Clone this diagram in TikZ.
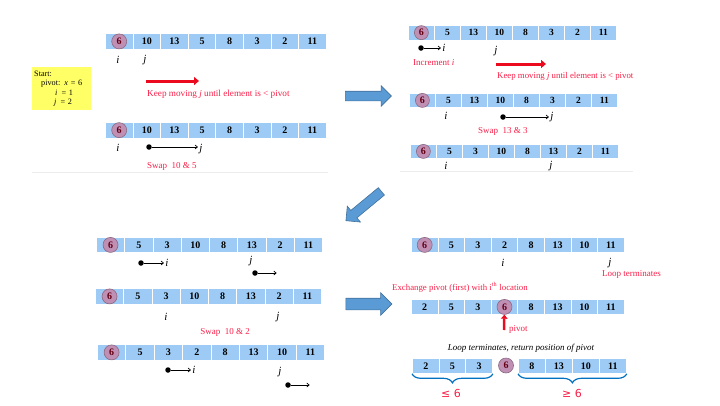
\documentclass[tikz,border=0pt]{standalone}
\usepackage{fontspec}
\setmainfont{Liberation Serif}
\newfontfamily\dvfont{DejaVu Sans}
\usetikzlibrary{arrows.meta,positioning,shapes.arrows,decorations.pathreplacing}

\definecolor{cellblue}{RGB}{157,203,245}
\definecolor{pivfill}{RGB}{192,144,180}
\definecolor{pivdraw}{RGB}{140,105,130}
\definecolor{pivtext}{RGB}{100,0,20}
\definecolor{notered}{RGB}{250,30,70}
\definecolor{fatredc}{RGB}{235,10,30}
\definecolor{startyellow}{RGB}{255,255,102}
\definecolor{arrowfill}{RGB}{91,155,213}
\definecolor{arrowdraw}{RGB}{65,113,156}
\definecolor{bracblue}{RGB}{0,112,192}

% one row of the array: [opts]{name}{x}{y top}{cell width}{cell height}{values}
\newcommand{\cellrow}[7][]{%
  \foreach \v [count=\k] in {#7}
    \node[cell, #1, minimum width=#5pt, minimum height=#6pt, anchor=north west]
      (#2-\k) at ({#3+(\k-1)*#5}, #4) {\v};%
}

\tikzset{
  cell/.style={fill=cellblue, draw=white, line width=0.8pt, inner sep=0pt,
    font=\fontsize{10}{12}\selectfont\bfseries},
  small/.style={font=\fontsize{9.5}{11}\selectfont\bfseries},
  pivot/.style={circle, fill=pivfill, draw=pivdraw, line width=0.6pt,
    minimum size=15pt, inner sep=0pt, text=pivtext,
    font=\fontsize{10}{12}\selectfont\bfseries},
  lbl/.style={font=\fontsize{11}{13}\selectfont\itshape, inner sep=0pt},
  note/.style={text=notered, font=\fontsize{9}{11}\selectfont, inner sep=0pt, anchor=west},
  dot/.style={circle, fill=black, minimum size=5.5pt, inner sep=0pt},
  ptr/.style={-{To[length=3pt,width=4.5pt]}, line width=0.7pt, shorten >=1.5pt},
  fatred/.style={-{Triangle[length=5pt,width=8pt]}, line width=3pt, fatredc},
  bigarrow/.style={single arrow, fill=arrowfill, draw=arrowdraw, line width=0.6pt,
    single arrow head extend=5.5pt, inner sep=4.5pt, minimum width=20pt,
    minimum height=46pt},
  brc/.style={decorate, decoration={brace, mirror, amplitude=9pt},
    draw=bracblue, line width=1.2pt},
  faint/.style={draw=gray!15, line width=0.4pt}
}

\begin{document}
\begin{tikzpicture}[x=1pt, y=-1pt]
  \useasboundingbox (0,0) rectangle (720,405);

  % start box
  \node[fill=startyellow, anchor=north west, text width=55pt, minimum height=43pt,
    inner sep=2pt, align=left, font=\fontsize{8.2}{9.5}\selectfont] (start) at (32,67)
    {Start:\\ \hspace*{7pt}pivot: \textit{x} = 6\\ \hspace*{21pt}\textit{i}\, = 1\\
     \hspace*{20pt}\textit{j}\, = 2};

  % ---------- top left ----------
  \cellrow{r1}{105}{33}{27.6}{16}{{},10,13,5,8,3,2,11}
  \node[pivot] (r1p) at (r1-1) {6};
  \node[lbl] (i1) at (118,60) {i};
  \node[lbl] (j1) at (145,60) {j};

  \coordinate (k1s) at (146,81);
  \coordinate (k1e) at (199,81);
  \draw[fatred] (k1s) -- (k1e);
  \node[note, font=\fontsize{9.2}{11}\selectfont] (keep1) at (147,94)
    {Keep moving \textit{j} until element is < pivot};

  \cellrow{r2}{105}{122}{27.6}{15.5}{{},10,13,5,8,3,2,11}
  \node[pivot] (r2p) at (r2-1) {6};
  \node[lbl] (i2) at (118,148) {i};
  \node[dot] (d2) at (149,147) {};
  \node[lbl] (j2) at (201,149) {j};
  \draw[ptr] (d2) -- (d2 -| j2.west);
  \node[note] (swap1) at (147,166) {Swap\ \ 10 \& 5};

  \draw[faint] (32,172) -- (328,172);

  % ---------- top right ----------
  \cellrow[small]{rA}{408}{25}{26}{14.5}{{},5,13,10,8,3,2,11}
  \node[pivot, minimum size=14pt] (rAp) at (rA-1) {6};
  \node[dot] (dA) at (421,48) {};
  \node[lbl] (iA) at (444,48) {i};
  \draw[ptr] (dA) -- (dA -| iA.west);
  \node[lbl] (jA) at (496,51) {j};
  \node[note] (inc) at (413,63) {Increment \textit{i}};

  \coordinate (k2s) at (496,64);
  \coordinate (k2e) at (546,64);
  \draw[fatred] (k2s) -- (k2e);
  \node[note, font=\fontsize{8.8}{11}\selectfont] (keep2) at (497,76)
    {Keep moving \textit{j} until element is < pivot};

  \cellrow[small]{rB}{409}{93}{26}{14}{{},5,13,10,8,3,2,11}
  \node[pivot, minimum size=14pt] (rBp) at (rB-1) {6};
  \node[lbl] (iB) at (446,116) {i};
  \node[dot] (dB) at (503,117) {};
  \node[lbl] (jB) at (552,117) {j};
  \draw[ptr] (dB) -- (dB -| jB.west);
  \node[note] (swap2) at (478,131) {Swap\ \ 13 \& 3};

  \cellrow[small]{rC}{410}{144}{26}{14}{{},5,3,10,8,13,2,11}
  \node[pivot, minimum size=14pt] (rCp) at (rC-1) {6};
  \node[lbl] (iC) at (446,166) {i};
  \node[lbl] (jC) at (551,166) {j};

  \draw[faint] (400,171) -- (633,171);

  % big arrows
  \node[bigarrow] (go1) at (366,96) {};
  \node[bigarrow, rotate=219.6] (go2) at (365.5,204.5) {};
  \node[bigarrow, inner sep=5.5pt] (go3) at (366,304) {};

  % ---------- bottom left ----------
  \cellrow{rD}{96}{237}{28.25}{15}{{},5,3,10,8,13,2,11}
  \node[pivot] (rDp) at (rD-1) {6};
  \node[dot] (dD) at (141,263) {};
  \node[lbl] (iD) at (167,263) {i};
  \draw[ptr] (dD) -- (dD -| iD.west);
  \node[lbl] (jD) at (251,261) {j};
  \node[dot] (dD2) at (255,273) {};
  \coordinate (eD2) at (278,273);
  \draw[ptr] (dD2) -- (eD2);

  \cellrow{rE}{95}{288}{28.25}{16}{{},5,3,10,8,13,2,11}
  \node[pivot] (rEp) at (rE-1) {6};
  \node[lbl] (iE) at (166,317) {i};
  \node[lbl] (jE) at (278,317) {j};
  \node[note, anchor=center] (swap3) at (225,332) {Swap\ \ 10 \& 2};

  \cellrow{rF}{97}{344}{28.4}{16}{{},5,3,2,8,13,10,11}
  \node[pivot] (rFp) at (rF-1) {6};
  \node[dot] (dF) at (168,370) {};
  \node[lbl] (iF) at (194,370) {i};
  \draw[ptr] (dF) -- (dF -| iF.west);
  \node[lbl] (jF) at (280,372) {j};
  \node[dot] (dF2) at (288,385) {};
  \coordinate (eF2) at (311,385);
  \draw[ptr] (dF2) -- (eF2);

  % ---------- bottom right ----------
  \cellrow{rG}{411}{237}{26.6}{15}{{},5,3,2,8,13,10,11}
  \node[pivot] (rGp) at (rG-1) {6};
  \node[lbl] (iG) at (503,263) {i};
  \node[lbl] (jG) at (610,263) {j};
  \node[note] (loop) at (602,274) {Loop terminates};

  \node[note, font=\fontsize{8.8}{11}\selectfont] (exch) at (392,287)
    {Exchange pivot (first) with i\textsuperscript{th} location};

  \cellrow{rH}{411}{299}{26.6}{15}{2,5,3,{},8,13,10,11}
  \node[pivot] (rHp) at (rH-4) {6};
  \coordinate (up0) at (504,330);
  \draw[fatred, line width=2.5pt, -{Triangle[length=4pt,width=6.5pt]}] (up0) -- (rHp);
  \node[note] (pv) at (509,329) {pivot};

  \node[font=\fontsize{9}{11}\selectfont\itshape, inner sep=0pt] (ret) at (521,348)
    {Loop terminates, return position of pivot};

  \cellrow{rIl}{412}{358}{26.7}{15}{2,5,3}
  \node[pivot] (rIp) at (506,365.5) {6};
  \cellrow{rIr}{518}{358}{27}{15}{8,13,10,11}

  \draw[brc] (rIl-1.south west) -- (rIl-3.south east);
  \draw[brc] (rIr-1.south west) -- (rIr-4.south east);
  \node[text=notered, font=\dvfont\fontsize{11}{13}\selectfont, inner sep=0pt] (le) at (451,393) {≤ 6};
  \node[text=notered, font=\dvfont\fontsize{11}{13}\selectfont, inner sep=0pt] (ge) at (572,393) {≥ 6};
\end{tikzpicture}
\end{document}
